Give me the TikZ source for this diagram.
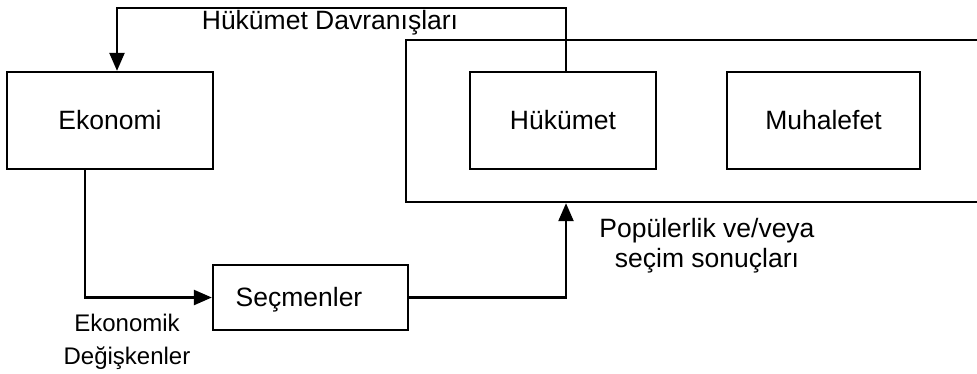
\documentclass[tikz,border=0pt]{standalone}
\usepackage{fontspec}
\setmainfont{Liberation Sans}
\usetikzlibrary{arrows.meta}
\begin{document}
\begin{tikzpicture}[x=1pt,y=-1pt,
  box/.style={draw, line width=2.3pt, inner sep=0pt, font=\fontsize{26.5}{31}\selectfont},
  flow/.style={line width=2.3pt, -{Triangle[length=18pt,width=15pt]}},
  lbl/.style={font=\fontsize{26.5}{30}\selectfont, inner sep=0pt, anchor=base, align=center}]
\useasboundingbox (0,0) rectangle (977,373);
\clip (0,0) rectangle (977,373);
\fill[white] (0,0) rectangle (977,373);
% boxes
\node[box, minimum width=206, minimum height=97] (eko) at (110,120.5) {Ekonomi};
\node[box, minimum width=600, minimum height=162] (gov) at (706,121) {};
\node[box, minimum width=186, minimum height=97] (huk) at (563,120.5) {Hükümet};
\node[box, minimum width=193, minimum height=97] (muh) at (823.5,120.5) {Muhalefet};
\node[box, minimum width=195, minimum height=65] (sec) at (310.5,297.5) {};
\node[lbl] (secT) at (299,306) {Seçmenler};
% connectors
\coordinate (turn) at (117,8);
\draw[flow] ([xshift=3]huk.north) |- (turn) -- (turn |- eko.north);
\draw[flow] ([xshift=-25]eko.south) |- (sec.west);
\draw[flow] (sec.east) -| ([xshift=3]huk.north |- gov.south);
% labels (base anchor sits on the last line)
\node[lbl] (hd) at (330,29) {Hükümet Davranışları};
\node[lbl] (pop) at (707,267) {Popülerlik ve/veya\\seçim sonuçları};
\node[lbl, font=\fontsize{24}{33}\selectfont] (ed) at (127,364) {Ekonomik\\Değişkenler};
\end{tikzpicture}
\end{document}
